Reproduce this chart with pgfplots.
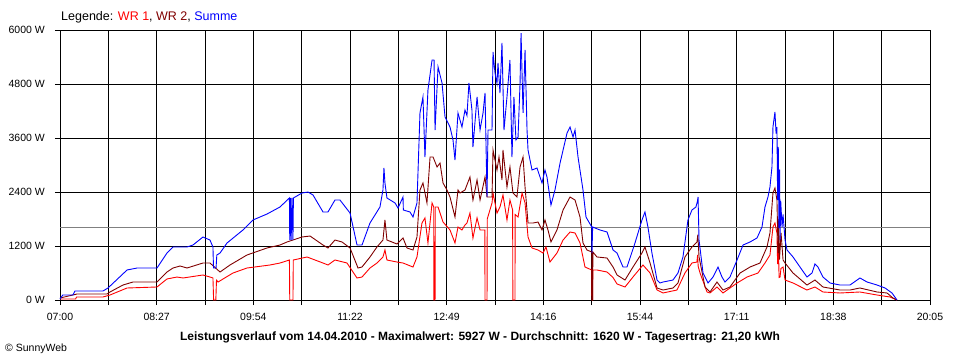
\documentclass[border=0pt]{standalone}
\usepackage{pgfplots}
\pgfplotsset{compat=1.18}
\usepackage{fontspec}
\setmainfont{Liberation Sans}
\definecolor{wrone}{RGB}{255,0,0}
\definecolor{wrtwo}{RGB}{128,0,0}
\definecolor{summe}{RGB}{0,0,255}
\definecolor{avg}{RGB}{128,128,128}
\begin{document}
\begin{tikzpicture}[x=1pt,y=1pt]
\path[use as bounding box] (0,0) rectangle (960,360);
\begin{axis}[
  at={(60pt,60pt)}, anchor=south west,
  scale only axis, width=870pt, height=270pt,
  xmin=0, xmax=785, ymin=0, ymax=6000,
  xtick={0,87.222,174.444,261.667,348.889,436.111,523.333,610.556,697.778,785},
  xticklabels={07:00,08:27,09:54,11:22,12:49,14:16,15:44,17:11,18:38,20:05},
  minor xtick={43.611,130.833,218.056,305.278,392.5,479.722,566.944,654.167,741.389},
  ytick={0,1200,2400,3600,4800,6000},
  yticklabels={0 W,1200 W,2400 W,3600 W,4800 W,6000 W},
  grid=both,
  major grid style={black, line width=1pt},
  minor grid style={black, line width=1pt},
  axis line style={black, line width=1pt},
  tick style={black, line width=1pt},
  tick align=outside,
  major tick length=5pt, minor tick length=5pt,
  xtick pos=bottom, ytick pos=left,
  ticklabel style={font=\fontsize{10.5}{12}\selectfont},
  xticklabel style={anchor=north, inner sep=0pt, yshift=-8pt},
  yticklabel style={anchor=east, inner sep=0pt, xshift=-10pt},
  clip=false,
]
\addplot[avg, line width=1pt, sharp plot] coordinates {(0,1620) (785,1620)};
\addplot[wrone, line width=0.9pt, sharp plot] coordinates {
(0,22) (14,22) (15,67) (38.8,67) (45.1,111) (60.5,267) (87.5,289) (96.5,467) (105.6,511) (111,489) (129,556) (135.3,511) (138,489) (138.6,0) (140.6,0) (141.2,440) (142.6,400) (156.1,600) (168.7,711) (189.5,778) (198.5,822) (207,889) (207.3,0) (210.2,0) (210.5,889) (222.9,956) (237.3,822) (241.8,778) (248.1,889) (259,822) (268,489) (272.5,511) (279.7,711) (286,822) (291.4,956) (293.2,1111) (295,889) (304.1,844) (309.5,822) (318.5,733) (322.1,956) (326.6,1711) (329.3,1822) (332,1267) (335.7,2156) (337.2,2067) (337.4,0) (338.4,0) (338.6,2067) (341.1,2067) (345.6,1733) (351.9,1556) (356.4,1267) (359.1,1622) (362.7,1556) (365.4,1667) (367.2,1711) (369.9,1933) (372.6,1378) (376.3,1822) (379,1556) (383.3,1556) (383.5,0) (385.3,0) (385.5,1800) (389.8,2156) (390.7,2378) (394.3,1933) (397,2067) (399.7,2333) (403.3,1778) (406,2222) (408.4,2000) (408.6,0) (410.5,0) (410.7,1900) (413.3,1844) (416.9,2378) (419.6,2156) (422.3,1400) (425.9,1156) (431.3,1111) (435.8,1044) (438.5,1178) (442.1,844) (448.4,1044) (453.9,1333) (460.2,1511) (464.7,1489) (469.2,1267) (473.7,733) (479.8,667) (480,0) (480.6,0) (480.8,667) (484.5,667) (493.6,622) (499,500) (502.6,356) (509.8,289) (517,511) (526,778) (532.4,600) (538.7,222) (544.1,156) (556.7,222) (563.9,600) (570.2,822) (574.7,844) (575.3,1000) (575.8,750) (577.5,600) (583.8,178) (586.5,156) (592.8,289) (598.2,156) (610.9,378) (619.9,511) (629.8,600) (636.1,822) (640.6,1000) (643.3,1622) (645.1,1711) (646.9,1489) (647.5,800) (648.2,1300) (648.8,500) (649.7,511) (650.5,700) (652.4,733) (654.2,444) (661.4,378) (674,222) (681.2,289) (688.4,178) (703.8,156) (721.8,178) (737.2,111) (748.9,67) (755.2,0)
};
\addplot[wrtwo, line width=0.9pt, sharp plot] coordinates {
(0,44) (15.3,133) (42.4,133) (45.1,178) (56.8,333) (65.9,400) (87.5,400) (96.5,622) (102,711) (108.3,756) (114.6,711) (129,822) (135.3,822) (144.4,622) (153.4,778) (168.7,1000) (186.8,1156) (198.5,1222) (204.8,1289) (218.4,1400) (225.6,1422) (237.3,1222) (241.8,1156) (248.1,1333) (254.5,1289) (261.7,1156) (268.9,711) (272.5,733) (279.7,956) (286,1178) (291.4,1333) (292.5,1600) (293.2,1778) (295,1333) (304.1,1244) (309.5,1378) (313.1,1156) (318.5,1111) (322.1,1400) (324.8,2444) (327.5,2600) (331.1,2156) (333.9,3178) (336.6,3178) (340.2,2956) (342.9,3044) (345.6,2600) (349.2,2444) (351.9,2289) (356.4,1844) (359.1,2444) (360.9,2378) (365.4,2444) (369.9,2733) (372.6,2222) (376.3,2667) (379,2222) (383.5,2733) (385.3,2289) (389.8,2289) (390.7,3333) (394.3,2889) (396.1,3178) (398.8,2667) (399.7,3333) (403.3,2511) (406,2956) (408.7,2378) (412.3,2289) (415.1,2956) (417.8,3178) (419.6,2511) (422.3,1711) (426.8,1711) (431.3,1733) (434.9,1556) (437.6,1778) (440.3,1556) (443,1289) (448.4,1556) (453.9,2000) (460.2,2289) (464.7,2222) (469.2,1844) (471.9,1267) (475.5,1111) (479.8,1067) (480,0) (480.6,0) (480.8,1067) (484.5,956) (493.6,933) (499,733) (502.6,556) (509.8,444) (517,733) (525.1,1044) (527.8,1178) (532.4,822) (538.7,267) (544.1,222) (553.1,267) (557.6,378) (563.9,956) (570.2,1178) (574.7,1289) (575.5,1450) (576.6,956) (582,289) (586.5,178) (592.8,400) (598.2,222) (604.5,289) (613.6,600) (622.6,733) (631.6,822) (637.9,1178) (640.6,1489) (643.3,2378) (645.1,2489) (646.9,2222) (647.9,1044) (648.5,1800) (649.2,900) (650.6,1489) (652.4,889) (654.2,822) (661.4,600) (674,333) (681.2,444) (688.4,289) (703.8,222) (712.8,222) (721.8,267) (737.2,178) (746.2,156) (751.6,44) (755.2,0)
};
\addplot[summe, line width=0.9pt, sharp plot] coordinates {
(0,22) (2.5,111) (11.7,111) (13.5,200) (38.8,200) (43.3,267) (60.5,667) (69.5,711) (87.5,711) (96.5,1044) (102,1178) (114.6,1178) (120,1222) (129,1400) (135.3,1333) (138,1178) (138.5,711) (140.8,711) (141.5,1000) (144.4,1044) (150.7,1267) (165.1,1556) (174.1,1778) (186.8,1911) (198.5,2067) (207,2267) (207.3,1333) (207.8,2267) (208.6,1333) (209.2,2267) (210.2,1333) (210.6,2267) (218.4,2378) (223.8,2400) (228.3,2333) (237.3,1956) (241.8,1956) (248.1,2222) (252.6,2222) (261.7,1933) (268,1222) (272.5,1222) (279.7,1711) (288.7,2067) (291.4,2444) (292.3,2933) (293.2,2600) (295,2267) (302.3,2156) (305,2044) (309.5,2289) (309.8,2000) (315.8,1956) (318.5,1844) (322.1,2156) (324.8,4156) (327.5,4511) (329.3,3178) (332,4667) (335.7,5333) (337.5,5333) (338.4,3778) (341.1,5178) (344.7,4822) (347.4,4067) (351.9,3844) (354.6,3556) (356.4,3111) (359.1,4156) (362.7,3844) (365.4,4222) (367.2,4100) (369,4822) (371.7,4222) (372.6,3400) (376.3,4511) (379,3778) (381.7,4156) (383.5,4600) (385.3,2289) (386.2,3778) (389.8,3778) (390.7,5511) (392.5,5044) (394.3,4822) (395.2,5267) (397,4600) (398.8,5711) (400.6,3778) (403.3,4511) (406,5333) (407.8,3178) (409.6,4511) (411.4,3556) (413.3,3622) (415.1,4822) (416,5933) (417.8,4156) (419.6,5556) (421.4,3778) (422.3,3333) (425.9,2889) (430.4,2933) (434.9,2600) (437.6,2889) (439.4,2733) (443,2111) (446.6,2444) (451.2,3044) (457.5,3711) (460.2,3844) (462.9,3622) (464.7,3778) (467.4,3178) (471.9,2444) (474.6,1844) (479.8,1622) (480,1044) (480.6,1622) (487.2,1556) (493.6,1511) (499,1111) (502.6,1044) (508,733) (511.6,733) (518.8,1267) (525.1,1778) (527.8,1956) (530.5,1622) (534.1,1044) (538.7,444) (541.4,378) (544.1,400) (553.1,444) (557.6,600) (562.1,956) (566.6,1778) (570.2,2000) (573.8,2067) (575.2,2200) (575.7,2289) (576.6,1333) (580.2,600) (584.7,378) (589.2,511) (593.7,733) (597.3,511) (600,400) (604.5,511) (610.9,889) (616.3,1222) (622.6,1289) (628.9,1378) (633.4,1622) (636.1,2067) (638.8,2289) (640.6,2511) (642.4,2956) (643.3,3844) (645.1,4178) (646.1,3700) (646.9,3844) (647.5,2222) (648.1,3400) (648.7,1600) (649.3,2900) (649.7,1333) (650.3,2200) (651.5,1622) (652.4,1900) (654.2,1333) (656,1111) (661.4,956) (667.7,733) (674,511) (678.5,600) (681.2,800) (683.9,733) (688.4,511) (694.8,378) (703.8,333) (712.8,333) (721.8,489) (728.2,400) (737.2,333) (744.4,267) (750.7,156) (755.2,0)
};
\end{axis}
\node[anchor=west, inner sep=0pt, font=\fontsize{12.5}{14}\selectfont] at (61,343) {Legende: \textcolor{wrone}{WR 1}, \textcolor{wrtwo}{WR 2}, \textcolor{summe}{Summe}};
\node[anchor=center, inner sep=0pt, font=\fontsize{12}{14}\bfseries] at (480,23) {Leistungsverlauf vom 14.04.2010 - Maximalwert: 5927 W - Durchschnitt: 1620 W - Tagesertrag: 21,20 kWh};
\node[anchor=west, inner sep=0pt, font=\fontsize{10.5}{12}\selectfont] at (5,11) {© SunnyWeb};
\end{tikzpicture}
\end{document}
